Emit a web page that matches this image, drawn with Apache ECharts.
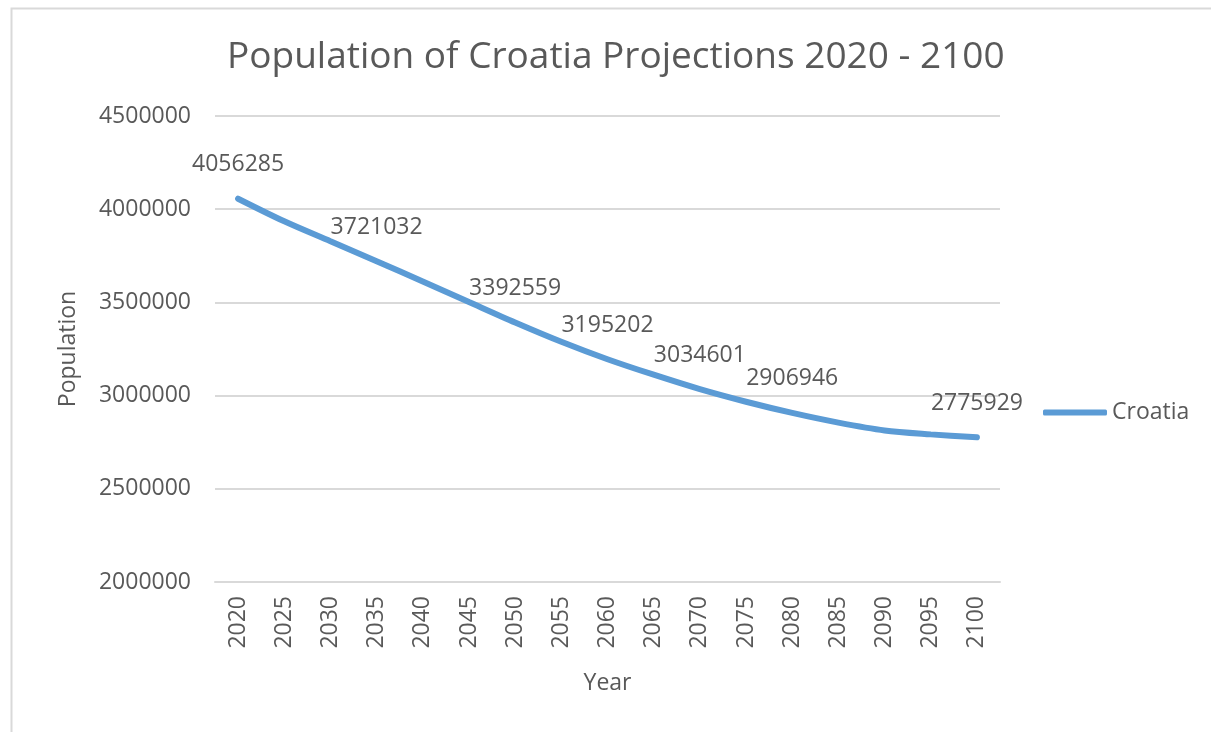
<!DOCTYPE html>
<html>
<head>
<meta charset="utf-8">
<script src="https://cdn.jsdelivr.net/npm/echarts@6/dist/echarts.min.js"></script>
<style>
  html, body { margin: 0; padding: 0; background: #fff; }
  #chart { width: 1211px; height: 732px; }
</style>
</head>
<body>
<div id="chart"></div>
<script>
// years on the category axis
var years = ['2020', '2025', '2030', '2035', '2040', '2045', '2050', '2055', '2060',
  '2065', '2070', '2075', '2080', '2085', '2090', '2095', '2100']

// population values (labelled ones are exact, the rest)
var population = [4056285, 3935000, 3828000, 3721032, 3612000, 3502000, 3392559, 3289000,
  3195202, 3112000, 3034601, 2967000, 2906946, 2855000, 2813000, 2792000, 2775929]

// years that carry a data label in the original
var labelledYears = ['2020', '2035', '2050', '2060', '2070', '2080', '2100']

var yTicks = { min: 2000000, max: 4500000, step: 500000 }

var textColor = '#595959'
var lineColor = '#5B9BD5'
var gridColor = '#D9D9D9'
var font = 'Open Sans'

var seriesData = population.map(function (v, i) {
  return {
    value: v,
    label: { show: labelledYears.indexOf(years[i]) !== -1 }
  }
})

var chart = echarts.init(document.getElementById('chart'))

chart.setOption({
  backgroundColor: '#fff',
  animation: false,
  textStyle: { fontFamily: font, color: textColor },
  title: {
    text: 'Population of Croatia Projections 2020 - 2100',
    left: 222,
    top: 34,
    textStyle: { fontFamily: font, fontSize: 37, fontWeight: 'normal', color: textColor }
  },
  graphic: [{
    type: 'rect',
    left: 9,
    top: 6,
    shape: { width: 1240, height: 800 },
    style: { fill: 'none', stroke: gridColor, lineWidth: 2 },
    silent: true
  }],
  legend: {
    data: ['Croatia'],
    left: 1038,
    top: 396,
    itemWidth: 64,
    itemHeight: 6,
    itemGap: 0,
    icon: 'roundRect',
    textStyle: { fontFamily: font, fontSize: 23, color: textColor, padding: [0, 0, 0, 0] }
  },
  grid: {
    left: 215,
    right: 211,
    top: 116,
    bottom: 150
  },
  xAxis: {
    type: 'category',
    data: years,
    boundaryGap: true,
    name: 'Year',
    nameLocation: 'middle',
    nameGap: 90,
    nameTextStyle: { fontFamily: font, fontSize: 23, color: textColor },
    axisLine: { lineStyle: { color: gridColor, width: 2 } },
    axisTick: { show: false },
    axisLabel: {
      rotate: 90,
      margin: 14,
      fontFamily: font,
      fontSize: 23,
      color: textColor,
      interval: 0
    }
  },
  yAxis: {
    type: 'value',
    min: yTicks.min,
    max: yTicks.max,
    interval: yTicks.step,
    name: 'Population',
    nameLocation: 'middle',
    nameGap: 135,
    nameTextStyle: { fontFamily: font, fontSize: 23, color: textColor },
    axisLine: { show: false },
    axisTick: { show: false },
    axisLabel: {
      margin: 24,
      fontFamily: font,
      fontSize: 23,
      color: textColor,
      formatter: function (v) { return String(v) }
    },
    splitLine: { lineStyle: { color: gridColor, width: 2 } }
  },
  series: [{
    name: 'Croatia',
    type: 'line',
    data: seriesData,
    smooth: 0.3,
    symbol: 'circle',
    symbolSize: 1,
    showAllSymbol: true,
    color: lineColor,
    itemStyle: { color: lineColor },
    lineStyle: { color: lineColor, width: 6, cap: 'round' },
    label: {
      position: 'top',
      distance: 22,
      fontFamily: font,
      fontSize: 23,
      color: textColor
    }
  }]
})
</script>
</body>
</html>
